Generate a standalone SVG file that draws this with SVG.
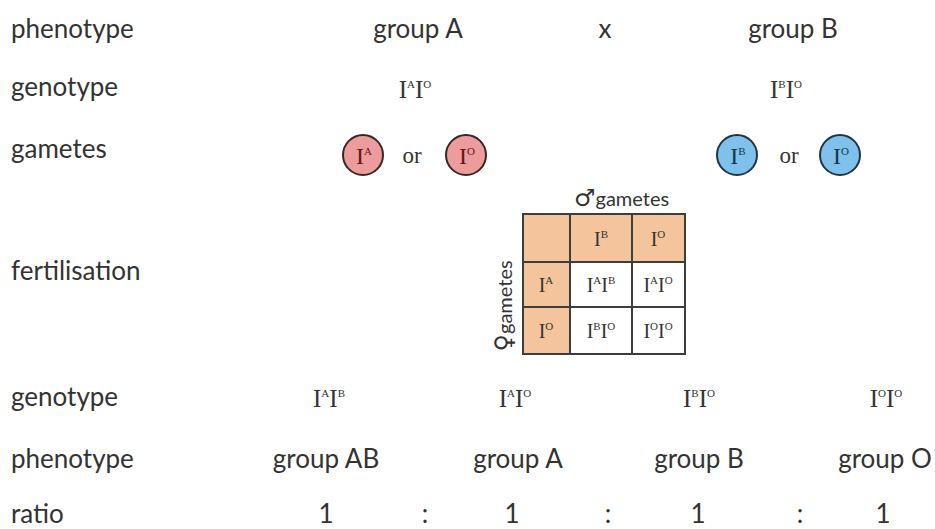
<svg xmlns="http://www.w3.org/2000/svg" width="935" height="529" viewBox="0 0 935 529">
  <style>
    .lbl { font-family: Lato, "Open Sans", sans-serif; font-size: 26px; fill: #333; }
    .ctr { text-anchor: middle; }
    .gen { font-family: "Liberation Serif", serif; font-size: 25px; fill: #333; text-anchor: middle; }
    .sup { font-size: 11px; }
    .sym { font-family: "DejaVu Sans", sans-serif; font-size: 24px; }
    .cell { font-family: "Liberation Serif", serif; font-size: 20px; fill: #333; text-anchor: middle; }
    .gr { fill: #ec9c9c; stroke: #3b2626; stroke-width: 2; }
    .gb { fill: #7fc1ea; stroke: #1f3544; stroke-width: 2; }
    .tr { font-family: "Liberation Serif", serif; font-size: 24px; fill: #6b1414; text-anchor: middle; }
    .tb { font-family: "Liberation Serif", serif; font-size: 24px; fill: #173650; text-anchor: middle; }
    .or { font-family: "Liberation Serif", serif; font-size: 23px; fill: #333; text-anchor: middle; }
    .hdr { fill: #f4c59c; }
    .grid { fill: none; stroke: #3d3d3d; stroke-width: 2; }
  </style>

  <!-- row labels -->
  <g id="labels" class="lbl">
    <text x="11" y="38">phenotype</text>
    <text x="11" y="96">genotype</text>
    <text x="11" y="158">gametes</text>
    <text x="11" y="280">fertilisation</text>
    <text x="11" y="406">genotype</text>
    <text x="11" y="468">phenotype</text>
    <text x="11" y="523">ratio</text>
  </g>

  <!-- parents -->
  <g id="parent-a">
    <text class="lbl ctr" x="418" y="38">group A</text>
    <text class="gen" x="415" y="98">I<tspan class="sup" dy="-10">A</tspan><tspan dy="10">I</tspan><tspan class="sup" dy="-10">O</tspan></text>
  </g>
  <text id="cross" class="lbl ctr" x="605" y="38">x</text>
  <g id="parent-b">
    <text class="lbl ctr" x="793" y="38">group B</text>
    <text class="gen" x="786" y="98">I<tspan class="sup" dy="-10">B</tspan><tspan dy="10">I</tspan><tspan class="sup" dy="-10">O</tspan></text>
  </g>

  <!-- gametes -->
  <g id="gametes-a">
    <circle class="gr" cx="363" cy="155" r="20"/>
    <text class="tr" x="364" y="164">I<tspan class="sup" dy="-9">A</tspan></text>
    <text class="or" x="412" y="163">or</text>
    <circle class="gr" cx="466" cy="155" r="20"/>
    <text class="tr" x="467" y="164">I<tspan class="sup" dy="-9">O</tspan></text>
  </g>
  <g id="gametes-b">
    <circle class="gb" cx="737" cy="155" r="20"/>
    <text class="tb" x="738" y="164">I<tspan class="sup" dy="-9">B</tspan></text>
    <text class="or" x="789" y="163">or</text>
    <circle class="gb" cx="840" cy="155" r="20"/>
    <text class="tb" x="841" y="164">I<tspan class="sup" dy="-9">O</tspan></text>
  </g>

  <!-- Punnett square -->
  <g id="punnett">
    <text class="lbl" x="574" y="206" style="font-size:20px"><tspan class="sym">♂</tspan>gametes</text>
    <text class="lbl ctr" transform="translate(512,306) rotate(-90)" style="font-size:20px"><tspan class="sym">♀</tspan>gametes</text>
    <rect class="hdr" x="523" y="214" width="162" height="48"/>
    <rect class="hdr" x="523" y="262" width="47" height="92"/>
    <rect class="grid" x="523" y="214" width="162" height="140"/>
    <line class="grid" x1="570" y1="214" x2="570" y2="354"/>
    <line class="grid" x1="632" y1="214" x2="632" y2="354"/>
    <line class="grid" x1="523" y1="262" x2="685" y2="262"/>
    <line class="grid" x1="523" y1="307" x2="685" y2="307"/>
    <text class="cell" x="601" y="246">I<tspan class="sup" dy="-8">B</tspan></text>
    <text class="cell" x="658" y="246">I<tspan class="sup" dy="-8">O</tspan></text>
    <text class="cell" x="546" y="292">I<tspan class="sup" dy="-8">A</tspan></text>
    <text class="cell" x="546" y="338">I<tspan class="sup" dy="-8">O</tspan></text>
    <text class="cell" x="601" y="292">I<tspan class="sup" dy="-8">A</tspan><tspan dy="8">I</tspan><tspan class="sup" dy="-8">B</tspan></text>
    <text class="cell" x="658" y="292">I<tspan class="sup" dy="-8">A</tspan><tspan dy="8">I</tspan><tspan class="sup" dy="-8">O</tspan></text>
    <text class="cell" x="601" y="338">I<tspan class="sup" dy="-8">B</tspan><tspan dy="8">I</tspan><tspan class="sup" dy="-8">O</tspan></text>
    <text class="cell" x="658" y="338">I<tspan class="sup" dy="-8">O</tspan><tspan dy="8">I</tspan><tspan class="sup" dy="-8">O</tspan></text>
  </g>

  <!-- offspring -->
  <g id="offspring-ab">
    <text class="gen" x="329" y="407">I<tspan class="sup" dy="-10">A</tspan><tspan dy="10">I</tspan><tspan class="sup" dy="-10">B</tspan></text>
    <text class="lbl ctr" x="326" y="468">group AB</text>
    <text class="lbl ctr" x="326" y="523">1</text>
  </g>
  <g id="offspring-a">
    <text class="gen" x="515" y="407">I<tspan class="sup" dy="-10">A</tspan><tspan dy="10">I</tspan><tspan class="sup" dy="-10">O</tspan></text>
    <text class="lbl ctr" x="518" y="468">group A</text>
    <text class="lbl ctr" x="512" y="523">1</text>
  </g>
  <g id="offspring-b">
    <text class="gen" x="699" y="407">I<tspan class="sup" dy="-10">B</tspan><tspan dy="10">I</tspan><tspan class="sup" dy="-10">O</tspan></text>
    <text class="lbl ctr" x="699" y="468">group B</text>
    <text class="lbl ctr" x="698" y="523">1</text>
  </g>
  <g id="offspring-o">
    <text class="gen" x="886" y="407">I<tspan class="sup" dy="-10">O</tspan><tspan dy="10">I</tspan><tspan class="sup" dy="-10">O</tspan></text>
    <text class="lbl ctr" x="885" y="468">group O</text>
    <text class="lbl ctr" x="883" y="523">1</text>
  </g>
  <g id="ratio-sep" class="lbl ctr">
    <text x="425" y="523">:</text>
    <text x="608" y="523">:</text>
    <text x="800" y="523">:</text>
  </g>
</svg>
